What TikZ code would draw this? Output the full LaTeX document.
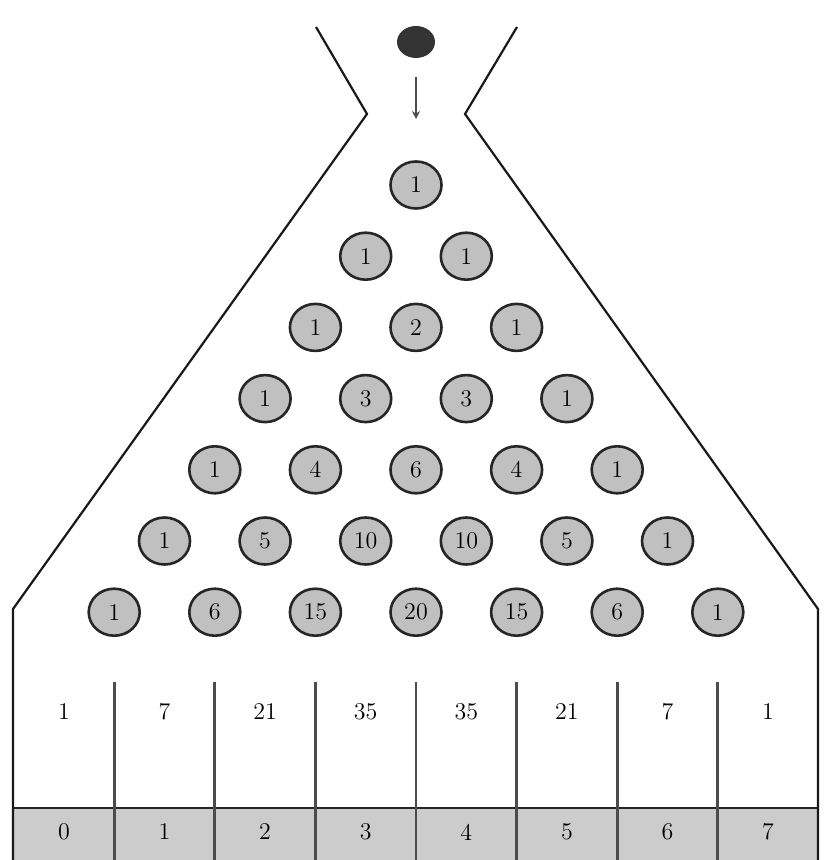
\documentclass[tikz,border=0pt]{standalone}
\usetikzlibrary{shapes.geometric,arrows.meta}
\definecolor{pegfill}{HTML}{C0C0C0}
\definecolor{binfill}{HTML}{CCCCCC}
\begin{document}
\begin{tikzpicture}[x=0.5pt,y=-0.5pt,
  peg/.style={ellipse,draw=black!85,line width=1.3pt,fill=pegfill,minimum width=25.5pt,minimum height=23.5pt,inner sep=0pt,font=\fontsize{12}{14}\selectfont},
  ballnode/.style={ellipse,fill=black!80,minimum width=19pt,minimum height=16pt,inner sep=0pt},
  wall/.style={line width=1.1pt,black!90,line join=miter},
  divider/.style={line width=1.4pt,black!70},
  count/.style={font=\fontsize{12}{14}\selectfont,inner sep=0pt},
  baseline/.style={line width=1.4pt,black!85},
]
\useasboundingbox (0,0) rectangle (827,860);
% bin label strip
\fill[binfill] (13,808) rectangle (818,860);
\draw[baseline] (13,808) -- (818,808);
% funnel and walls
\draw[wall] (316,27) -- (367,114) -- (13,609) -- (13,860);
\draw[wall] (517,27) -- (465,114) -- (818,609) -- (818,860);
% dividers
\foreach \k in {0,...,6}{
  \pgfmathsetmacro\xx{416+(\k-3)*100.6}
  \draw[divider] (\xx,682) -- (\xx,860);
}
% ball and arrow
\node[ballnode] (ball) at (416,42) {};
\coordinate (drop) at (416,119);
\draw[line width=1.3pt,black!70,-{Stealth[length=4pt,width=4pt]},shorten <=9.5pt] (ball.south) -- (drop);
% pegs
\foreach \n in {0,...,6}{
  \foreach \k in {0,...,\n}{
    \pgfmathsetmacro\xx{416+(\k-\n/2)*100.6}
    \pgfmathsetmacro\yy{185+71.2*\n}
    \pgfmathtruncatemacro\c{factorial(\n)/(factorial(\k)*factorial(\n-\k))}
    \node[peg] (p-\n-\k) at (\xx,\yy) {\c};
  }
}
% bins
\foreach \k in {0,...,7}{
  \pgfmathsetmacro\xx{416+(\k-3.5)*100.6}
  \pgfmathtruncatemacro\c{factorial(7)/(factorial(\k)*factorial(7-\k))}
  \node[count] (bin-\k) at (\xx,712) {\c};
  \node[count] (lab-\k) at (\xx,832) {\k};
}
\end{tikzpicture}
\end{document}
